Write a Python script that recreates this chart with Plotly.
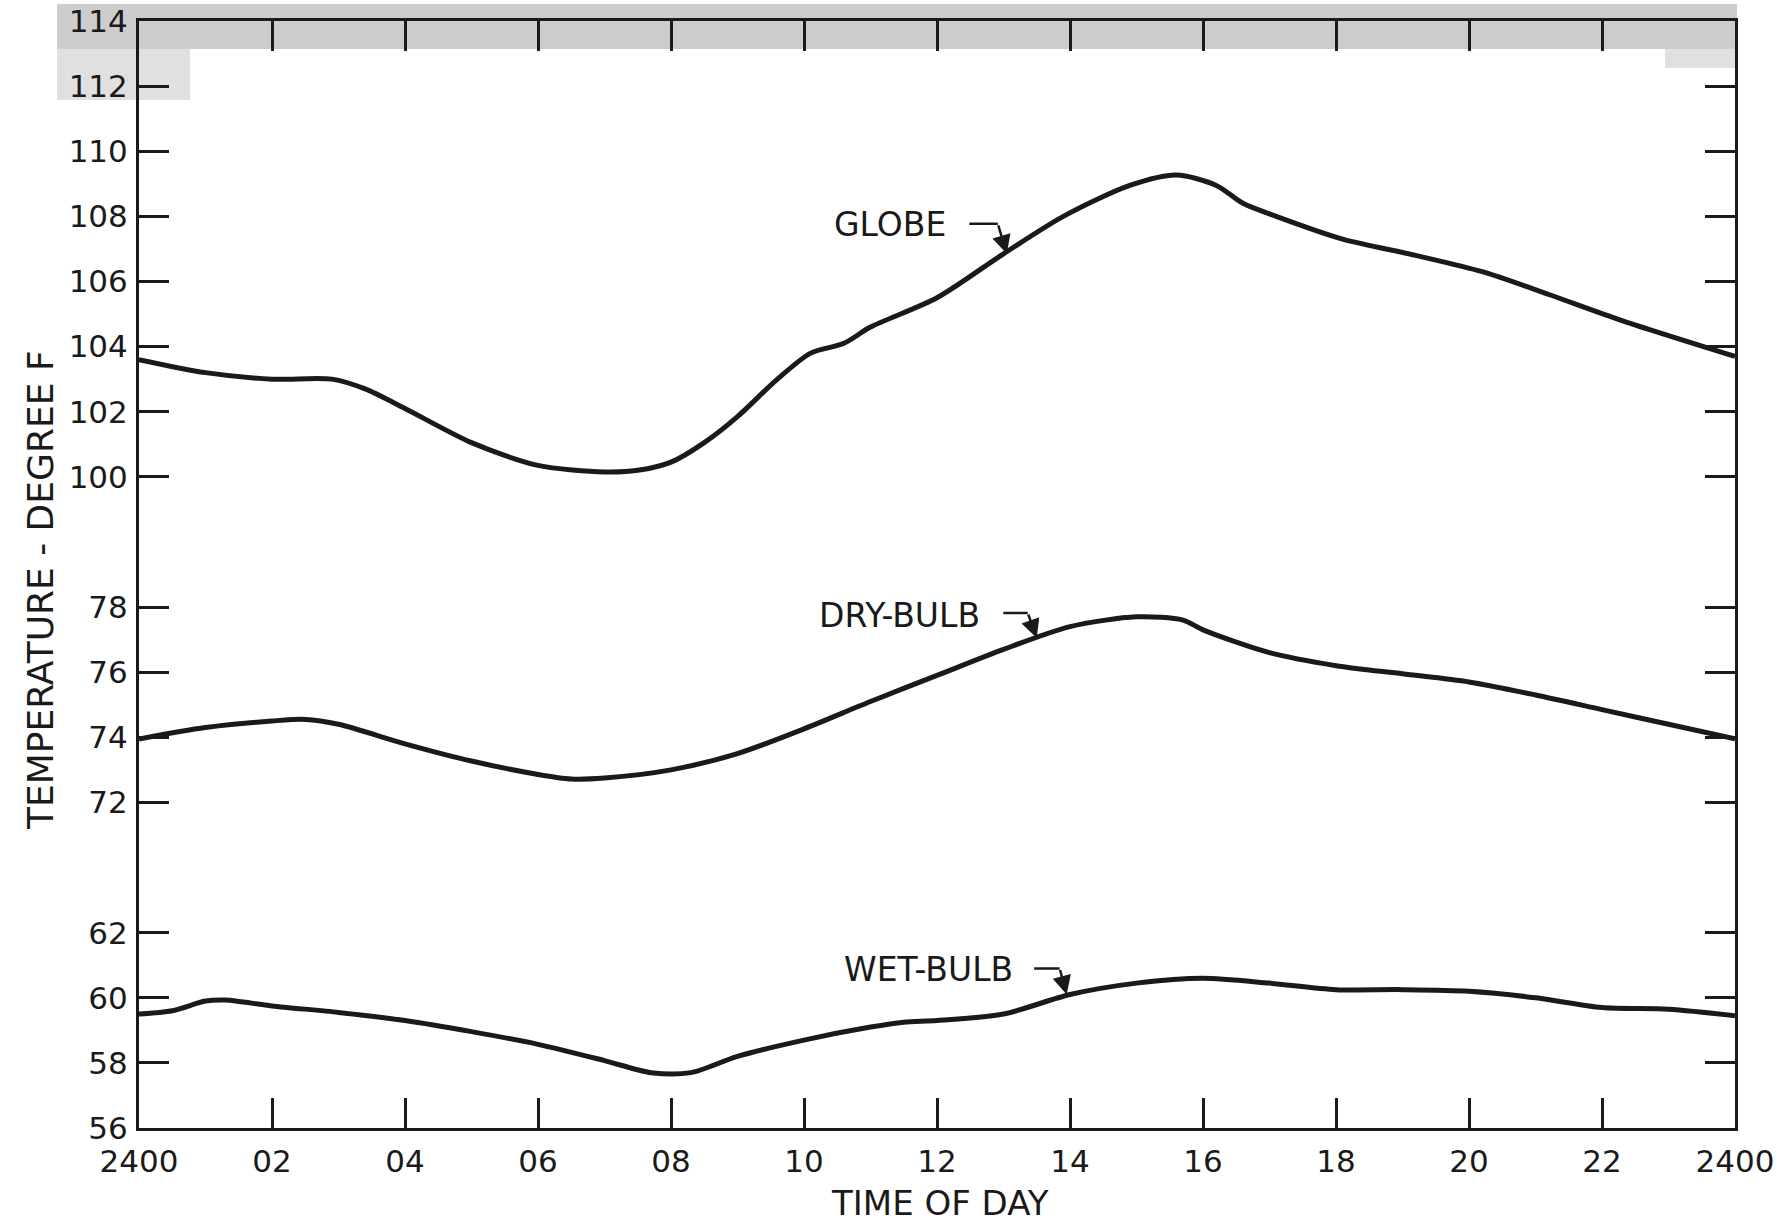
import plotly.graph_objects as go

# ---------------- data ----------------
x_tick_vals = [0, 2, 4, 6, 8, 10, 12, 14, 16, 18, 20, 22, 24]
x_tick_text = ["2400", "02", "04", "06", "08", "10", "12", "14", "16", "18", "20", "22", "2400"]

wet_ticks = [56, 58, 60, 62]
dry_ticks = [72, 74, 76, 78]
globe_ticks = [100, 102, 104, 106, 108, 110, 112, 114]

globe_hours = [0, 1, 2, 2.9, 3.4, 4, 5, 6, 7, 7.5, 8, 8.5, 9, 9.6, 10.1, 10.6, 11, 12,
               13, 13.9, 14.9, 15.6, 16.2, 16.6, 17.1, 18.1, 19.2, 20.2, 21.2, 22.3, 24]
globe_temp = [103.6, 103.2, 103.0, 103.0, 102.7, 102.1, 101.05, 100.35, 100.15, 100.2,
              100.45, 101.05, 101.85, 103.0, 103.8, 104.1, 104.6, 105.5, 106.85, 108.0,
              108.95, 109.27, 108.95, 108.4, 108.0, 107.3, 106.8, 106.3, 105.6, 104.8, 103.7]

dry_hours = [0, 1, 2, 2.5, 3, 4, 5, 6, 6.5, 7, 8, 9, 10, 11, 12, 13, 14, 15, 15.7, 16,
             17, 18, 19, 20, 21, 22, 23, 24]
dry_temp = [73.95, 74.3, 74.5, 74.55, 74.4, 73.8, 73.27, 72.86, 72.72, 72.75, 73.0, 73.5,
            74.26, 75.1, 75.9, 76.7, 77.4, 77.7, 77.6, 77.3, 76.6, 76.2, 75.95, 75.7,
            75.3, 74.85, 74.4, 73.95]

wet_hours = [0, 0.5, 1, 1.3, 2, 3, 4, 5, 6, 7, 7.7, 8.3, 9, 10, 11, 11.5, 12, 13, 14,
             15, 16, 17, 18, 19, 20, 21, 22, 23, 24]
wet_temp = [59.5, 59.6, 59.9, 59.93, 59.75, 59.55, 59.3, 58.96, 58.57, 58.07, 57.7, 57.7,
            58.2, 58.7, 59.1, 59.25, 59.3, 59.5, 60.1, 60.45, 60.6, 60.45, 60.25, 60.25,
            60.2, 60.0, 59.7, 59.65, 59.45]

labels = ["GLOBE", "DRY-BULB", "WET-BULB"]
label_points = [(13.05, 106.85), (13.5, 77.05), (13.95, 60.1)]

# ---------------- styling ----------------
INK = "#1a1a1a"
FONT = "DejaVu Sans"
W, H = 1787, 1223
ML, MR, MT, MB = 139, 52, 21, 95
PW, PH = W - ML - MR, H - MT - MB

def px_x(px):
    return (px - ML) / PW

def px_y(py):
    return (H - MB - py) / PH

fig = go.Figure()
line_style = dict(color=INK, width=5, shape="spline", smoothing=0.8)
fig.add_trace(go.Scatter(x=wet_hours, y=wet_temp, mode="lines", line=line_style,
                         xaxis="x", yaxis="y", showlegend=False))
fig.add_trace(go.Scatter(x=dry_hours, y=dry_temp, mode="lines", line=line_style,
                         xaxis="x", yaxis="y2", showlegend=False))
fig.add_trace(go.Scatter(x=globe_hours, y=globe_temp, mode="lines", line=line_style,
                         xaxis="x2", yaxis="y3", showlegend=False))

axis_common = dict(showgrid=False, zeroline=False, showline=True, linecolor=INK,
                   linewidth=3, ticks="inside", ticklen=30, tickwidth=2.5,
                   tickcolor=INK, automargin=False, ticklabeloverflow="allow",
                   tickfont=dict(family=FONT, size=31, color=INK))

fig.update_layout(
    width=W, height=H, autosize=False,
    margin=dict(l=ML, r=MR, t=MT, b=MB, autoexpand=False),
    paper_bgcolor="white", plot_bgcolor="white",
    xaxis=dict(domain=[0, 1], range=[0, 24], anchor="y", tickmode="array",
               tickvals=x_tick_vals, ticktext=x_tick_text, ticklabelstandoff=4,
               **axis_common),
    xaxis2=dict(domain=[0, 1], range=[0, 24], anchor="y3", overlaying="x", side="top",
                tickmode="array", tickvals=x_tick_vals[1:-1], showticklabels=False,
                **axis_common),
    yaxis=dict(domain=[0, 4 / 17], range=[56, 64], anchor="x", tickmode="array",
               tickvals=wet_ticks, mirror="ticks", ticklabelstandoff=2, **axis_common),
    yaxis2=dict(domain=[4 / 17, 9 / 17], range=[70, 80], anchor="x", tickmode="array",
                tickvals=dry_ticks, mirror="ticks", ticklabelstandoff=2, **axis_common),
    yaxis3=dict(domain=[9 / 17, 1], range=[98, 114], anchor="x2", tickmode="array",
                tickvals=globe_ticks, mirror="ticks", ticklabelstandoff=2, **axis_common),
)

# scanned grey band at the top of the original
fig.add_shape(type="rect", xref="paper", yref="paper", layer="below",
              x0=px_x(57), x1=px_x(1737), y0=px_y(49), y1=px_y(4),
              fillcolor="#cdcdcd", line_width=0)
fig.add_shape(type="rect", xref="paper", yref="paper", layer="below",
              x0=px_x(57), x1=px_x(190), y0=px_y(100), y1=px_y(49),
              fillcolor="#e0e0e0", line_width=0)
fig.add_shape(type="rect", xref="paper", yref="paper", layer="below",
              x0=px_x(1665), x1=px_x(1737), y0=px_y(68), y1=px_y(49),
              fillcolor="#e0e0e0", line_width=0)

# curve labels with hooked arrows
yrefs = ["y3", "y2", "y"]
xrefs = ["x2", "x", "x"]
text_shift = [(-59, 29), (-55, 22), (-52, 25)]
hook = [(-9, 30, 30), (-9, 25, 26), (-7, 26, 27)]
for lab, (hx, hy), xr, yr, (tx, ty), (cx, cy, hl) in zip(labels, label_points, xrefs, yrefs,
                                                          text_shift, hook):
    fig.add_annotation(x=hx, y=hy, xref=xr, yref=yr, text=lab, showarrow=False,
                       xanchor="right", yanchor="middle", xshift=tx, yshift=ty,
                       font=dict(family=FONT, size=33, color=INK))
    # downward arrow part of the hook
    fig.add_annotation(x=hx, y=hy, xref=xr, yref=yr, text="", showarrow=True,
                       ax=cx, ay=-cy, arrowhead=2, arrowsize=1.5, arrowwidth=2.5,
                       arrowcolor=INK)
    # horizontal part of the hook
    fig.add_annotation(x=hx, y=hy, xref=xr, yref=yr, text="", showarrow=True,
                       xshift=cx, yshift=cy, ax=-hl, ay=0, arrowhead=0,
                       arrowwidth=2.5, arrowcolor=INK)

# axis titles
fig.add_annotation(xref="paper", yref="paper", x=px_x(40), y=px_y(590),
                   text="TEMPERATURE - DEGREE F", textangle=-90, showarrow=False,
                   xanchor="center", yanchor="middle",
                   font=dict(family=FONT, size=36, color=INK))
fig.add_annotation(xref="paper", yref="paper", x=px_x(940), y=px_y(1203),
                   text="TIME OF DAY", showarrow=False, xanchor="center",
                   yanchor="middle", font=dict(family=FONT, size=34, color=INK))

fig.write_html("out.html")
